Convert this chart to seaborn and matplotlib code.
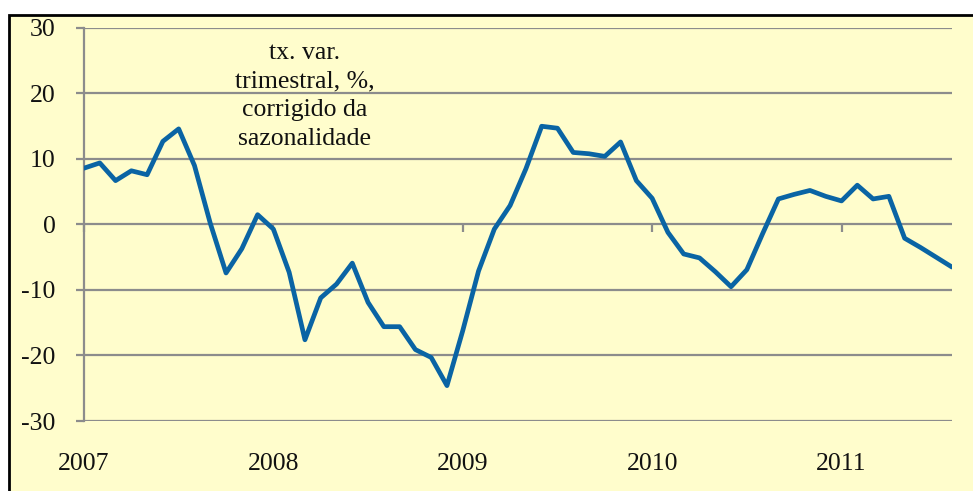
import matplotlib
matplotlib.use("Agg")
import matplotlib.pyplot as plt
from matplotlib.patches import Rectangle
import numpy as np
import pandas as pd
import seaborn as sns

# monthly quarterly-change values, Jan 2007 .. Aug 2011
values = [8.6, 9.4, 6.7, 8.2, 7.6, 12.7, 14.6, 9.0, 0.2, -7.4, -3.7, 1.5,
          -0.7, -7.3, -17.6, -11.2, -9.1, -5.9, -11.9, -15.6, -15.6, -19.1, -20.3, -24.6,
          -16.2, -7.1, -0.7, 2.9, 8.5, 15.0, 14.7, 11.0, 10.8, 10.4, 12.6, 6.7,
          4.0, -1.2, -4.5, -5.1, -7.2, -9.5, -6.9, -1.4, 3.9, 4.6, 5.2, 4.3,
          3.6, 6.0, 3.9, 4.3, -2.1, -3.5, -5.0, -6.5]
year_labels = ["2007", "2008", "2009", "2010", "2011"]
y_ticks = [-30, -20, -10, 0, 10, 20, 30]
note = "tx. var.\ntrimestral, %,\ncorrigido da\nsazonalidade"

df = pd.DataFrame({"month": np.arange(len(values)), "value": values})

bg = "#FFFDCC"
grid_col = "#8C8C8C"
line_col = "#0A64A4"
txt_col = "#111111"

sns.set_theme(style="white")
plt.rcParams["font.family"] = ["Liberation Serif", "DejaVu Serif"]

W, H = 973, 491
fig = plt.figure(figsize=(W / 100, H / 100), dpi=100, facecolor="white")
frame = Rectangle((9 / W, -0.1), 1.2, 1.1 - 15 / H,
                  transform=fig.transFigure, facecolor=bg,
                  edgecolor="black", linewidth=2, zorder=-10)
fig.patches.append(frame)
ax = fig.add_axes([84 / W, 1 - 421 / H, (952 - 84) / W, (421 - 28) / H])
ax.set_zorder(1)
ax.patch.set_alpha(0)

sns.lineplot(data=df, x="month", y="value", ax=ax, color=line_col,
             linewidth=3.4, zorder=3)

ax.set_xlim(0, len(values) - 1)
ax.set_ylim(-30, 30)
ax.set_yticks(y_ticks)
ax.set_yticklabels([str(v) for v in y_ticks], fontsize=18.5, color=txt_col)
ax.yaxis.grid(True, color=grid_col, linewidth=1.6)
ax.set_axisbelow(True)
ax.set_xlabel("")
ax.set_ylabel("")

for s in ["top", "right"]:
    ax.spines[s].set_visible(False)
ax.spines["left"].set_color(grid_col)
ax.spines["left"].set_linewidth(1.6)
ax.spines["bottom"].set_position(("data", 0))
ax.spines["bottom"].set_visible(False)

year_pos = np.arange(len(year_labels)) * 12
ax.set_xticks(year_pos)
ax.tick_params(axis="x", direction="out", length=6, width=1.6, color=grid_col,
               labelbottom=False, bottom=True)
ax.tick_params(axis="y", direction="out", length=6, width=1.6, color=grid_col,
               pad=14.5, left=True)

sec = ax.secondary_xaxis("bottom")
sec.set_xticks(year_pos)
sec.set_xticklabels(year_labels, fontsize=18.5, color=txt_col)
sec.tick_params(length=0, pad=23)
sec.spines["bottom"].set_visible(False)

ax.text(14, 19.6, note, ha="center", va="center", fontsize=18.5,
        linespacing=1.38, color=txt_col)

fig.savefig("out.png", dpi=100, facecolor="white")
